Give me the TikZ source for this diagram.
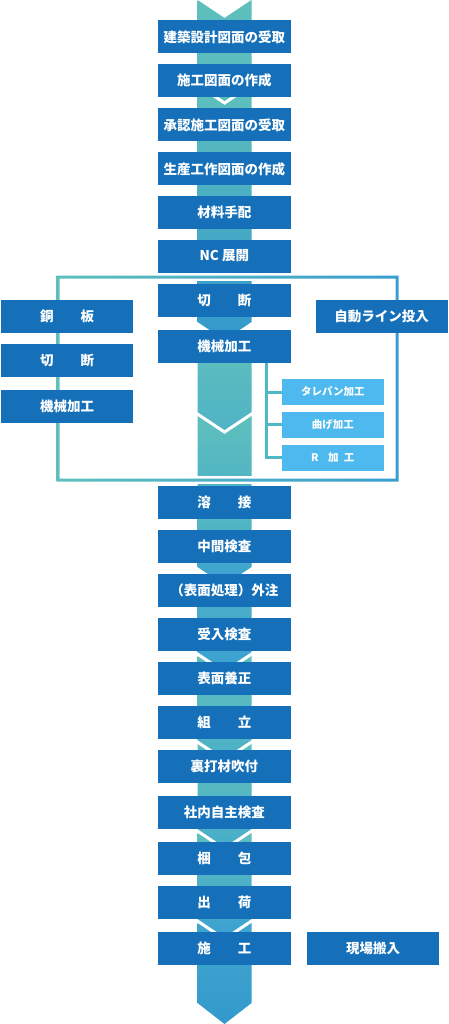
\documentclass[tikz,border=0pt]{standalone}
\usepackage{fontspec}
\setmainfont{Noto Sans CJK JP}
\usetikzlibrary{positioning}
\definecolor{flowblue}{RGB}{21,112,185}
\definecolor{flowsky}{RGB}{77,185,238}
\definecolor{flowteal}{RGB}{94,192,188}
\definecolor{flowaqua}{RGB}{58,160,210}
\definecolor{flowdeep}{RGB}{51,153,204}
\definecolor{flowline}{RGB}{80,184,196}

\begin{document}
\begin{tikzpicture}[x=1pt, y=-1pt,
  mainbox/.style={fill=flowblue, text=white, minimum width=133pt, minimum height=33pt, inner sep=0pt, font=\fontsize{13.5}{14}\selectfont\bfseries},
  sidebox/.style={mainbox, minimum width=132pt},
  subbox/.style={fill=flowsky, text=white, minimum width=102pt, minimum height=26pt, inner sep=0pt, font=\fontsize{10.5}{11}\selectfont\bfseries},
  bracket/.style={flowline, line width=3pt}]
  \fill[white] (0,0) rectangle (448,1024);
  \useasboundingbox (0,0) rectangle (448,1024);
  % Backbone chevrons
  \foreach \yt/\yb/\ca/\cb in {0/83/flowteal/flowteal!85!flowaqua, 87/322/flowteal/flowdeep,
      334/412/flowteal/flowteal!60!flowaqua, 416/488/flowteal/flowteal!50!flowaqua,
      492/567/flowteal/flowaqua, 576/652/flowteal!60!flowaqua/flowaqua,
      656/740/flowteal/flowteal!50!flowaqua, 744/829/flowteal/flowteal!40!flowaqua,
      833/919/flowteal/flowaqua} {
    \shade[top color=\ca, bottom color=\cb] (197.5,\yt) -- (224.5,\yt+18) -- (251.5,\yt)
      -- (251.5,\yb) -- (224.5,\yb+18) -- (197.5,\yb) -- cycle;
  }
  \shade[top color=flowaqua!80!flowteal, bottom color=flowdeep] (197.5,923) -- (224.5,941) -- (251.5,923)
    -- (251.5,1003) -- (224.5,1024) -- (197.5,1003) -- cycle;
  % Frame round the cutting line
  \fill[white] (195,273) rectangle (254,281);
  \fill[white] (195,476) rectangle (254,484);
  \shade[left color=flowteal, right color=flowaqua!70!flowdeep, even odd rule]
    (56.5,275.5) rectangle (398.5,481.5) (59.5,278.5) rectangle (395.5,478.5);
  % Main flow
  \foreach \nm/\yy/\txt in {kenchiku/37/建築設計図面の受取, sekozu/80.5/施工図面の作成,
      shonin/125/承認施工図面の受取, seisan/169/生産工作図面の作成, zairyo/212.5/材料手配,
      nc/256/NC 展開, setsudan/300.5/切　　断, kikai/346/機械加工, yosetsu/502.5/溶　　接,
      chukan/546.5/中間検査, gaichu/590.5/（表面処理）外注, ukeire/634.5/受入検査,
      yosei/678/表面養正, kumitate/722/組　　立, urauchi/766/裏打材吹付,
      shanai/812.5/社内自主検査, konpo/858/梱　　包, shukka/902.5/出　　荷, seko/948/施　　工} {
    \node[mainbox] (\nm) at (224.3,\yy) {\txt};
  }
  % Side steps
  \node[sidebox] (kohan) at (67,316) {銅　　板};
  \node[sidebox] (lsetsudan) at (67,360) {切　　断};
  \node[sidebox] (lkikai) at (67,406) {機械加工};
  \node[sidebox] (jido) at (381.7,316) {自動ライン投入};
  \node[sidebox] (genba) at (373,948) {現場搬入};
  % Machining branches
  \node[subbox] (tare) at (332.8,392) {タレパン加工};
  \node[subbox, below=6.5pt of tare] (mage) {曲げ加工};
  \node[subbox, below=6.5pt of mage] (rkako) {R\hspace{0.9em}加\hspace{0.5em}工};
  \draw[bracket] ([xshift=42.4pt]kikai.south) |- (tare.west);
  \draw[bracket] ([xshift=42.4pt]kikai.south) |- (mage.west);
  \draw[bracket] ([xshift=42.4pt]kikai.south) |- (rkako.west);
\end{tikzpicture}
\end{document}
